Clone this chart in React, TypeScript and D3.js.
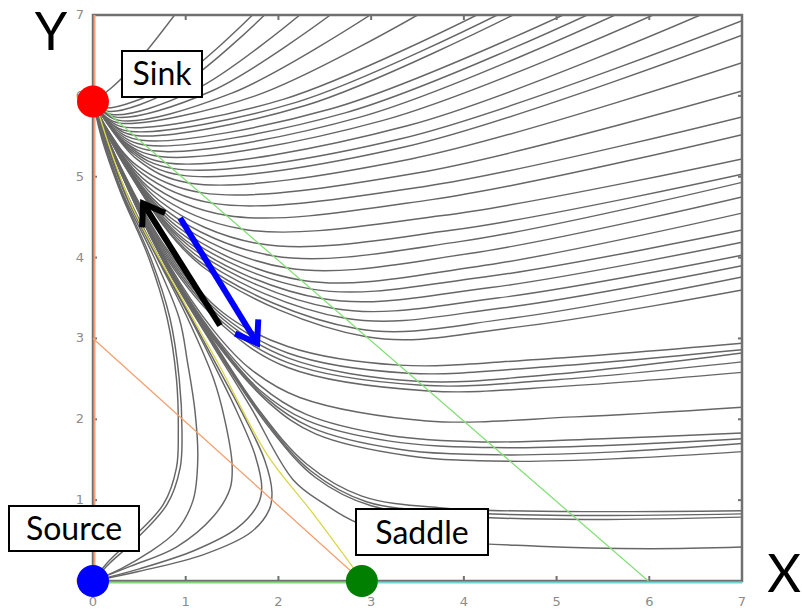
import React from "react"
import * as d3 from "d3"

type Pt = [number, number]

const SINK: Pt = [0, 5.93]
const SOURCE: Pt = [0, 0]
const SADDLE: Pt = [2.9, 0]
const TICKS = [0, 1, 2, 3, 4, 5, 6, 7]

// orbits coming down from the top / right edge into the sink
const upperOrbits: Pt[][] = [
  [[0, 5.93], [0.2, 6.1], [0.5, 6.45], [0.88, 7]],
  [[0, 5.93], [0.12, 5.85], [0.84, 6.14], [1.72, 7]],
  [[0, 5.93], [0.16, 5.81], [0.92, 6.11], [1.85, 7]],
  [[0, 5.93], [0.2, 5.77], [1.11, 6.08], [2.23, 7]],
  [[0, 5.93], [0.23, 5.74], [1.28, 6.06], [2.56, 7]],
  [[0, 5.93], [0.27, 5.7], [1.49, 6.03], [2.99, 7]],
  [[0, 5.93], [0.14, 5.74], [0.31, 5.66], [1.75, 6.0], [3.5, 7]],
  [[0, 5.93], [0.16, 5.71], [0.36, 5.61], [2.06, 5.96], [4.14, 7]],
  [[0, 5.93], [0.18, 5.67], [0.41, 5.56], [2.19, 5.92], [4.36, 7]],
  [[0, 5.93], [0.21, 5.64], [0.46, 5.51], [2.29, 5.88], [4.53, 7]],
  [[0, 5.93], [0.23, 5.6], [0.52, 5.45], [2.57, 5.84], [5.07, 7]],
  [[0, 5.93], [0.26, 5.55], [0.58, 5.39], [2.72, 5.79], [5.33, 7]],
  [[0, 5.93], [0.29, 5.5], [0.65, 5.32], [2.89, 5.74], [5.63, 7]],
  [[0, 5.93], [0.32, 5.45], [0.72, 5.25], [3.11, 5.69], [6.04, 7]],
  [[0, 5.93], [0.36, 5.4], [0.8, 5.17], [3.39, 5.63], [6.55, 7]],
  [[0, 5.93], [0.39, 5.35], [0.87, 5.1], [3.32, 5.47], [7, 6.93]],
  [[0, 5.93], [0.43, 5.29], [0.95, 5.02], [3.37, 5.37], [7, 6.75]],
  [[0, 5.93], [0.47, 5.22], [1.05, 4.92], [3.43, 5.22], [7, 6.41]],
  [[0, 5.93], [0.14, 5.61], [0.47, 5.14], [1.18, 4.8], [3.51, 5.05], [7, 6.06]],
  [[0, 5.93], [0.16, 5.58], [0.52, 5.05], [1.3, 4.67], [3.58, 4.88], [7, 5.74]],
  [[0, 5.93], [0.17, 5.54], [0.58, 4.94], [1.45, 4.52], [3.67, 4.72], [7, 5.52]],
  [[0, 5.93], [0.19, 5.49], [0.65, 4.82], [1.62, 4.35], [3.77, 4.52], [7, 5.22]],
  [[0, 5.93], [0.22, 5.44], [0.72, 4.7], [1.8, 4.17], [3.88, 4.34], [7, 5.03]],
  [[0, 5.93], [0.23, 5.4], [0.78, 4.59], [1.95, 4.02], [3.97, 4.2], [7, 4.93]],
  [[0, 5.93], [0.25, 5.35], [0.84, 4.49], [2.1, 3.87], [4.06, 4.05], [7, 4.75]],
  [[0, 5.93], [0.27, 5.31], [0.9, 4.39], [2.25, 3.72], [4.15, 3.89], [7, 4.55]],
  [[0, 5.93], [0.28, 5.28], [0.94, 4.31], [2.36, 3.61], [4.22, 3.76], [7, 4.34]],
  [[0, 5.93], [0.3, 5.25], [0.99, 4.22], [2.48, 3.49], [4.29, 3.63], [7, 4.19]],
  [[0, 5.93], [0.31, 5.21], [1.04, 4.14], [2.6, 3.37], [4.36, 3.5], [7, 4.03]],
  [[0, 5.93], [0.33, 5.18], [1.09, 4.05], [2.72, 3.25], [4.43, 3.38], [7, 3.9]],
  [[0, 5.93], [0.34, 5.14], [1.14, 3.96], [2.85, 3.12], [4.51, 3.25], [7, 3.76]],
  [[0, 5.93], [0.35, 5.12], [1.18, 3.89], [2.95, 3.02], [4.57, 3.14], [7, 3.6]],
]

// orbits from the right edge that run past the saddle and up along the separatrix
const middleOrbits: Pt[][] = [
  [[0, 5.93], [0.3, 5.12], [0.8, 4.1], [1.4, 3.32], [2.1, 2.9], [3.3, 2.67], [4.8, 2.74], [7, 2.94]],
  [[0, 5.93], [0.3, 5.11], [0.8, 4.07], [1.4, 3.28], [2.1, 2.82], [3.4, 2.57], [4.9, 2.65], [7, 2.86]],
  [[0, 5.93], [0.3, 5.1], [0.8, 4.04], [1.4, 3.24], [2.1, 2.76], [3.5, 2.47], [5.0, 2.56], [7, 2.82]],
  [[0, 5.93], [0.3, 5.09], [0.8, 4.01], [1.4, 3.2], [2.1, 2.7], [3.55, 2.42], [5.0, 2.49], [7, 2.71]],
  [[0, 5.93], [0.3, 5.08], [0.8, 3.98], [1.4, 3.16], [2.1, 2.64], [3.62, 2.35], [5.1, 2.41], [7, 2.58]],
  [[0, 5.93], [0.3, 5.08], [0.8, 3.95], [1.3, 3.1], [1.7, 2.62], [2.23, 2.27], [3.6, 1.98], [5.2, 2.03], [7, 2.15]],
  [[0, 5.93], [0.3, 5.07], [0.8, 3.93], [1.3, 3.05], [1.8, 2.42], [2.3, 2.06], [3.2, 1.8], [4.2, 1.72], [5.5, 1.76], [7, 1.83]],
  [[0, 5.93], [0.3, 5.07], [0.8, 3.92], [1.3, 3.03], [1.8, 2.36], [2.3, 1.99], [3.2, 1.73], [4.3, 1.65], [5.6, 1.68], [7, 1.76]],
  [[0, 5.93], [0.3, 5.07], [0.8, 3.91], [1.3, 3.01], [1.85, 2.28], [2.35, 1.9], [3.3, 1.63], [4.4, 1.56], [5.7, 1.6], [7, 1.7]],
  [[0, 5.93], [0.3, 5.06], [0.8, 3.9], [1.3, 2.99], [1.9, 2.2], [2.4, 1.82], [3.4, 1.55], [4.5, 1.48], [5.8, 1.52], [7, 1.6]],
  [[0, 5.93], [0.3, 5.06], [0.8, 3.89], [1.3, 2.96], [1.8, 2.1], [2.3, 1.45], [2.9, 1.05], [3.8, 0.9], [5.1, 0.86], [7, 0.87]],
  [[0, 5.93], [0.3, 5.06], [0.8, 3.88], [1.3, 2.94], [1.85, 2.0], [2.35, 1.36], [2.95, 0.98], [3.9, 0.85], [5.2, 0.81], [7, 0.83]],
  [[0, 5.93], [0.3, 5.05], [0.8, 3.87], [1.3, 2.92], [1.9, 1.9], [2.4, 1.28], [3.0, 0.93], [4.0, 0.8], [5.3, 0.76], [7, 0.79]],
  [[0, 5.93], [0.3, 5.05], [0.8, 3.86], [1.3, 2.9], [1.7, 2.15], [2.16, 1.25], [2.5, 0.95], [2.85, 0.72], [3.5, 0.53], [4.8, 0.43], [6, 0.4], [7, 0.42]],
]

// orbits leaving the source and bending back to the sink
const sourceOrbits: Pt[][] = [
  [[0, 0], [0.15, 0.22], [0.4, 0.5], [0.76, 0.95], [0.9, 1.4], [0.92, 1.85], [0.9, 2.5], [0.8, 3.25], [0.6, 4.0], [0.3, 4.8], [0.1, 5.45], [0, 5.93]],
  [[0, 0], [0.18, 0.22], [0.45, 0.5], [0.8, 0.95], [0.94, 1.4], [0.96, 1.85], [0.93, 2.5], [0.83, 3.25], [0.62, 4.0], [0.31, 4.8], [0.11, 5.45], [0, 5.93]],
  [[0, 0], [0.3, 0.15], [0.6, 0.35], [0.9, 0.62], [1.08, 1.0], [1.13, 1.5], [1.1, 2.1], [1.02, 2.7], [0.93, 3.25], [0.66, 4.0], [0.32, 4.8], [0.12, 5.45], [0, 5.93]],
  [[0, 0], [0.4, 0.18], [0.9, 0.42], [1.3, 0.8], [1.48, 1.15], [1.5, 1.45], [1.42, 2.0], [1.3, 2.5], [1.02, 3.25], [0.69, 4.0], [0.34, 4.8], [0.13, 5.45], [0, 5.93]],
  [[0, 0], [0.5, 0.15], [1.1, 0.38], [1.55, 0.65], [1.78, 0.95], [1.82, 1.15], [1.75, 1.55], [1.55, 2.1], [1.36, 2.55], [1.05, 3.25], [0.7, 4.0], [0.35, 4.8], [0.14, 5.45], [0, 5.93]],
  [[0, 0], [0.5, 0.12], [1.2, 0.33], [1.7, 0.6], [1.9, 0.88], [1.93, 1.1], [1.85, 1.5], [1.6, 2.1], [1.39, 2.55], [1.06, 3.25], [0.71, 4.0], [0.36, 4.8], [0.14, 5.45], [0, 5.93]],
]

const separatrix: Pt[] = [[0.03, 5.9], [0.19, 5.33], [0.43, 4.61], [0.97, 3.47], [1.37, 2.65], [1.88, 1.56], [2.37, 0.84], [2.9, 0.02]]
const xNullcline: Pt[] = [[0, 3], [2.9, 0]]
const yNullcline: Pt[] = [[0, 5.95], [5.99, 0]]
const leftAxisNull: Pt[] = [[0, 0], [0, 7]]
const bottomGreen: Pt[] = [[0, 0], [2.9, 0]]
const bottomCyan: Pt[] = [[2.9, 0], [7, 0]]

const blackArrow: Pt[] = [[1.37, 3.16], [0.54, 4.67]]
const blueArrow: Pt[] = [[0.94, 4.49], [1.77, 2.94]]

const font = "Lato, 'Open Sans', sans-serif"

export default function App() {
  const width = 802
  const height = 613
  const x = d3.scaleLinear().domain([0, 7]).range([93, 742])
  const y = d3.scaleLinear().domain([0, 7]).range([581, 15])

  const curve = d3
    .line<Pt>()
    .x(d => x(d[0]))
    .y(d => y(d[1]))
    .curve(d3.curveCatmullRom.alpha(0.5))
  const straight = d3
    .line<Pt>()
    .x(d => x(d[0]))
    .y(d => y(d[1]))

  const arrow = (pts: Pt[], color: string) => {
    const [x0, y0] = [x(pts[0][0]), y(pts[0][1])]
    const [x1, y1] = [x(pts[1][0]), y(pts[1][1])]
    const a = Math.atan2(y1 - y0, x1 - x0)
    const len = 24
    const spread = 0.6
    const h1: [number, number] = [x1 - len * Math.cos(a - spread), y1 - len * Math.sin(a - spread)]
    const h2: [number, number] = [x1 - len * Math.cos(a + spread), y1 - len * Math.sin(a + spread)]
    return (
      <g stroke={color} strokeWidth={6} fill="none" strokeLinejoin="miter">
        <line x1={x0} y1={y0} x2={x1} y2={y1} />
        <path d={`M${h1[0]},${h1[1]}L${x1},${y1}L${h2[0]},${h2[1]}`} />
      </g>
    )
  }

  const gray = "#666666"
  const all = [...upperOrbits, ...middleOrbits, ...sourceOrbits]

  return (
    <div style={{ position: "absolute", left: 0, top: 0 }}>
      <svg width={width} height={height} style={{ display: "block", background: "#fff" }}>
        <defs>
          <clipPath id="plot">
            <rect x={x(0)} y={y(7)} width={x(7) - x(0)} height={y(0) - y(7)} />
          </clipPath>
        </defs>

        <g clipPath="url(#plot)" fill="none" stroke={gray} strokeWidth={1.45}>
          {all.map((d, i) => (
            <path key={i} d={curve(d) || ""} />
          ))}
        </g>

        {/* frame */}
        <rect x={x(0)} y={y(7)} width={x(7) - x(0)} height={y(0) - y(7)} fill="none" stroke="#707070" strokeWidth={2.5} />
        <g stroke="#707070" strokeWidth={2}>
          {TICKS.slice(1, 7).map(t => (
            <g key={t}>
              <line x1={x(t)} x2={x(t)} y1={y(0)} y2={y(0) - 5} />
              <line x1={x(t)} x2={x(t)} y1={y(7)} y2={y(7) + 5} />
              <line x1={x(0)} x2={x(0) + 4} y1={y(t)} y2={y(t)} />
              <line x1={x(7)} x2={x(7) - 4} y1={y(t)} y2={y(t)} />
            </g>
          ))}
        </g>

        {/* nullclines and separatrix */}
        <g fill="none" strokeWidth={1.3}>
          <path d={straight(xNullcline) || ""} stroke="#f4a070" />
          <path d={straight(yNullcline) || ""} stroke="#86e07a" />
          <path d={curve(separatrix) || ""} stroke="#d9d64a" />
          <path d={straight(leftAxisNull) || ""} stroke="#f4a070" strokeWidth={2} transform="translate(1.5,0)" />
          <path d={straight(bottomGreen) || ""} stroke="#7fdc74" strokeWidth={2} transform="translate(0,1.5)" />
          <path d={straight(bottomCyan) || ""} stroke="#6fd3d3" strokeWidth={2} transform="translate(0,1.5)" />
        </g>

        {/* tick labels */}
        <g fontFamily="'DejaVu Sans', sans-serif" fontSize={13} fill="#8c8c8c">
          {TICKS.map(t => (
            <text key={"x" + t} x={x(t)} y={606} textAnchor="middle">
              {t}
            </text>
          ))}
          {TICKS.map(t => (
            <text key={"y" + t} x={84} y={y(t) + 4} textAnchor="end">
              {t}
            </text>
          ))}
        </g>

        {arrow(blackArrow, "#000")}
        {arrow(blueArrow, "#0000ff")}

        <circle cx={x(SINK[0])} cy={y(SINK[1])} r={16} fill="#ff0000" />
        <circle cx={x(SOURCE[0])} cy={y(SOURCE[1])} r={16} fill="#0000ff" />
        <circle cx={x(SADDLE[0])} cy={y(SADDLE[1])} r={16} fill="#007f00" />

        {/* annotation boxes */}
        <g fontFamily={font} fontSize={32} fill="#000">
          <rect x={122} y={51} width={80} height={46} fill="#fff" stroke="#000" strokeWidth={2} />
          <text x={162} y={85} textAnchor="middle">Sink</text>
          <rect x={9} y={506} width={130} height={45} fill="#fff" stroke="#000" strokeWidth={2} />
          <text x={74} y={540} textAnchor="middle">Source</text>
          <rect x={356} y={509} width={132} height={46} fill="#fff" stroke="#000" strokeWidth={2} />
          <text x={422} y={544} textAnchor="middle">Saddle</text>
          <text x={51} y={50} textAnchor="middle" fontSize={52}>Y</text>
          <text x={784} y={592} textAnchor="middle" fontSize={52}>X</text>
        </g>
      </svg>
    </div>
  )
}
